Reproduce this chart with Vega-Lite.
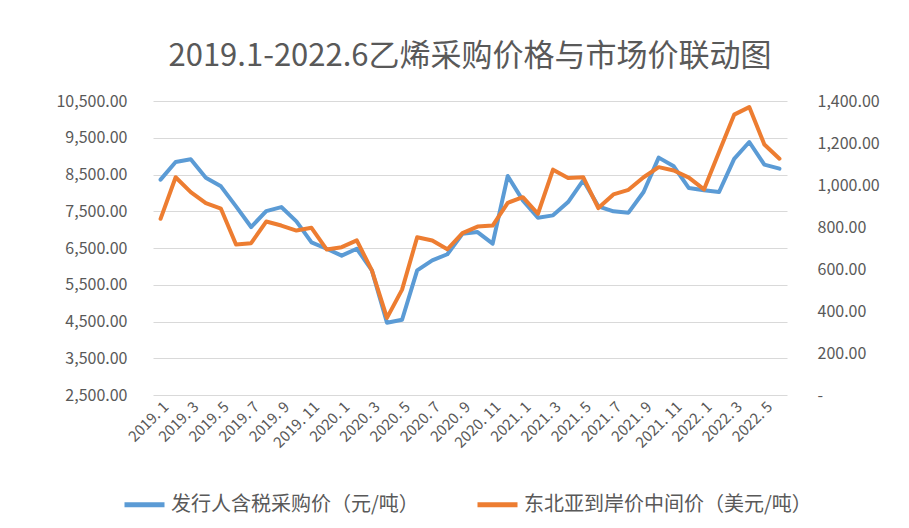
{
  "$schema": "https://vega.github.io/schema/vega-lite/v6.json",
  "width": 634,
  "height": 294,
  "autosize": {"type": "none"},
  "padding": {"left": 153, "top": 101, "right": 122, "bottom": 133},
  "background": "white",
  "title": {
    "text": "2019.1-2022.6乙烯采购价格与市场价联动图",
    "font": "Noto Sans CJK SC",
    "fontSize": 31,
    "fontWeight": "normal",
    "color": "#595959",
    "anchor": "middle",
    "offset": 20
  },
  "config": {
    "view": {"stroke": null},
    "axis": {
      "labelFont": "Noto Sans CJK SC",
      "labelColor": "#595959",
      "ticks": false,
      "domain": false,
      "title": null
    },
    "legend": {
      "orient": "none",
      "legendX": -31,
      "legendY": 381,
      "direction": "horizontal",
      "symbolType": "stroke",
      "symbolSize": 1600,
      "symbolStrokeWidth": 5,
      "labelFont": "Noto Sans CJK SC",
      "labelFontSize": 20,
      "labelColor": "#595959",
      "labelLimit": 400,
      "columnPadding": 48,
      "title": null
    }
  },
  "data": {
    "values": [
      {"month": "2019.1", "buy": 8360, "ne": 839},
      {"month": "2019.2", "buy": 8840, "ne": 1037},
      {"month": "2019.3", "buy": 8913, "ne": 966},
      {"month": "2019.4", "buy": 8414, "ne": 914},
      {"month": "2019.5", "buy": 8178, "ne": 887},
      {"month": "2019.6", "buy": 7633, "ne": 717},
      {"month": "2019.7", "buy": 7070, "ne": 723},
      {"month": "2019.8", "buy": 7505, "ne": 826},
      {"month": "2019.9", "buy": 7614, "ne": 807},
      {"month": "2019.10", "buy": 7225, "ne": 783},
      {"month": "2019.11", "buy": 6653, "ne": 796},
      {"month": "2019.12", "buy": 6480, "ne": 693},
      {"month": "2020.1", "buy": 6291, "ne": 704},
      {"month": "2020.2", "buy": 6480, "ne": 736},
      {"month": "2020.3", "buy": 5891, "ne": 593},
      {"month": "2020.4", "buy": 4467, "ne": 367},
      {"month": "2020.5", "buy": 4548, "ne": 502},
      {"month": "2020.6", "buy": 5891, "ne": 751},
      {"month": "2020.7", "buy": 6163, "ne": 736},
      {"month": "2020.8", "buy": 6330, "ne": 694},
      {"month": "2020.9", "buy": 6889, "ne": 771},
      {"month": "2020.10", "buy": 6934, "ne": 802},
      {"month": "2020.11", "buy": 6618, "ne": 807},
      {"month": "2020.12", "buy": 8458, "ne": 915},
      {"month": "2021.1", "buy": 7796, "ne": 942},
      {"month": "2021.2", "buy": 7325, "ne": 863},
      {"month": "2021.3", "buy": 7388, "ne": 1073},
      {"month": "2021.4", "buy": 7750, "ne": 1033},
      {"month": "2021.5", "buy": 8341, "ne": 1037},
      {"month": "2021.6", "buy": 7633, "ne": 890},
      {"month": "2021.7", "buy": 7497, "ne": 955},
      {"month": "2021.8", "buy": 7461, "ne": 977},
      {"month": "2021.9", "buy": 8023, "ne": 1037},
      {"month": "2021.10", "buy": 8959, "ne": 1085},
      {"month": "2021.11", "buy": 8722, "ne": 1069},
      {"month": "2021.12", "buy": 8132, "ne": 1035},
      {"month": "2022.1", "buy": 8069, "ne": 979},
      {"month": "2022.2", "buy": 8023, "ne": 1157},
      {"month": "2022.3", "buy": 8927, "ne": 1335},
      {"month": "2022.4", "buy": 9384, "ne": 1371},
      {"month": "2022.5", "buy": 8768, "ne": 1193},
      {"month": "2022.6", "buy": 8660, "ne": 1125}
    ]
  },
  "encoding": {
    "x": {
      "field": "month",
      "type": "ordinal",
      "sort": null,
      "scale": {"type": "point", "padding": 0.5},
      "axis": {
        "values": ["2019.1","2019.3","2019.5","2019.7","2019.9","2019.11","2020.1","2020.3","2020.5","2020.7","2020.9","2020.11","2021.1","2021.3","2021.5","2021.7","2021.9","2021.11","2022.1","2022.3","2022.5"],
        "labelExpr": "replace(datum.label, '.', '. ')",
        "labelAngle": -45,
        "labelFontSize": 15,
        "labelPadding": 4,
        "grid": false
      }
    }
  },
  "layer": [
    {
      "mark": {"type": "line", "strokeWidth": 4, "strokeJoin": "round", "strokeCap": "round"},
      "encoding": {
        "y": {
          "field": "buy",
          "type": "quantitative",
          "scale": {"domain": [2500, 10500], "nice": false, "zero": false},
          "axis": {
            "orient": "left",
            "values": [2500, 3500, 4500, 5500, 6500, 7500, 8500, 9500, 10500],
            "format": ",.2f",
            "labelFontSize": 16,
            "labelPadding": 26,
            "grid": true,
            "gridColor": "#d9d9d9",
            "gridWidth": 1
          }
        },
        "color": {
          "datum": "发行人含税采购价（元/吨）",
          "scale": {
            "domain": ["发行人含税采购价（元/吨）", "东北亚到岸价中间价（美元/吨）"],
            "range": ["#5B9BD5", "#ED7D31"]
          }
        }
      }
    },
    {
      "mark": {"type": "line", "strokeWidth": 4, "strokeJoin": "round", "strokeCap": "round"},
      "encoding": {
        "y": {
          "field": "ne",
          "type": "quantitative",
          "scale": {"domain": [0, 1400], "nice": false},
          "axis": {
            "orient": "right",
            "values": [0, 200, 400, 600, 800, 1000, 1200, 1400],
            "labelExpr": "datum.value == 0 ? '-' : format(datum.value, ',.2f')",
            "labelFontSize": 16,
            "labelPadding": 30,
            "grid": false
          }
        },
        "color": {"datum": "东北亚到岸价中间价（美元/吨）"}
      }
    }
  ],
  "resolve": {"scale": {"y": "independent"}}
}
